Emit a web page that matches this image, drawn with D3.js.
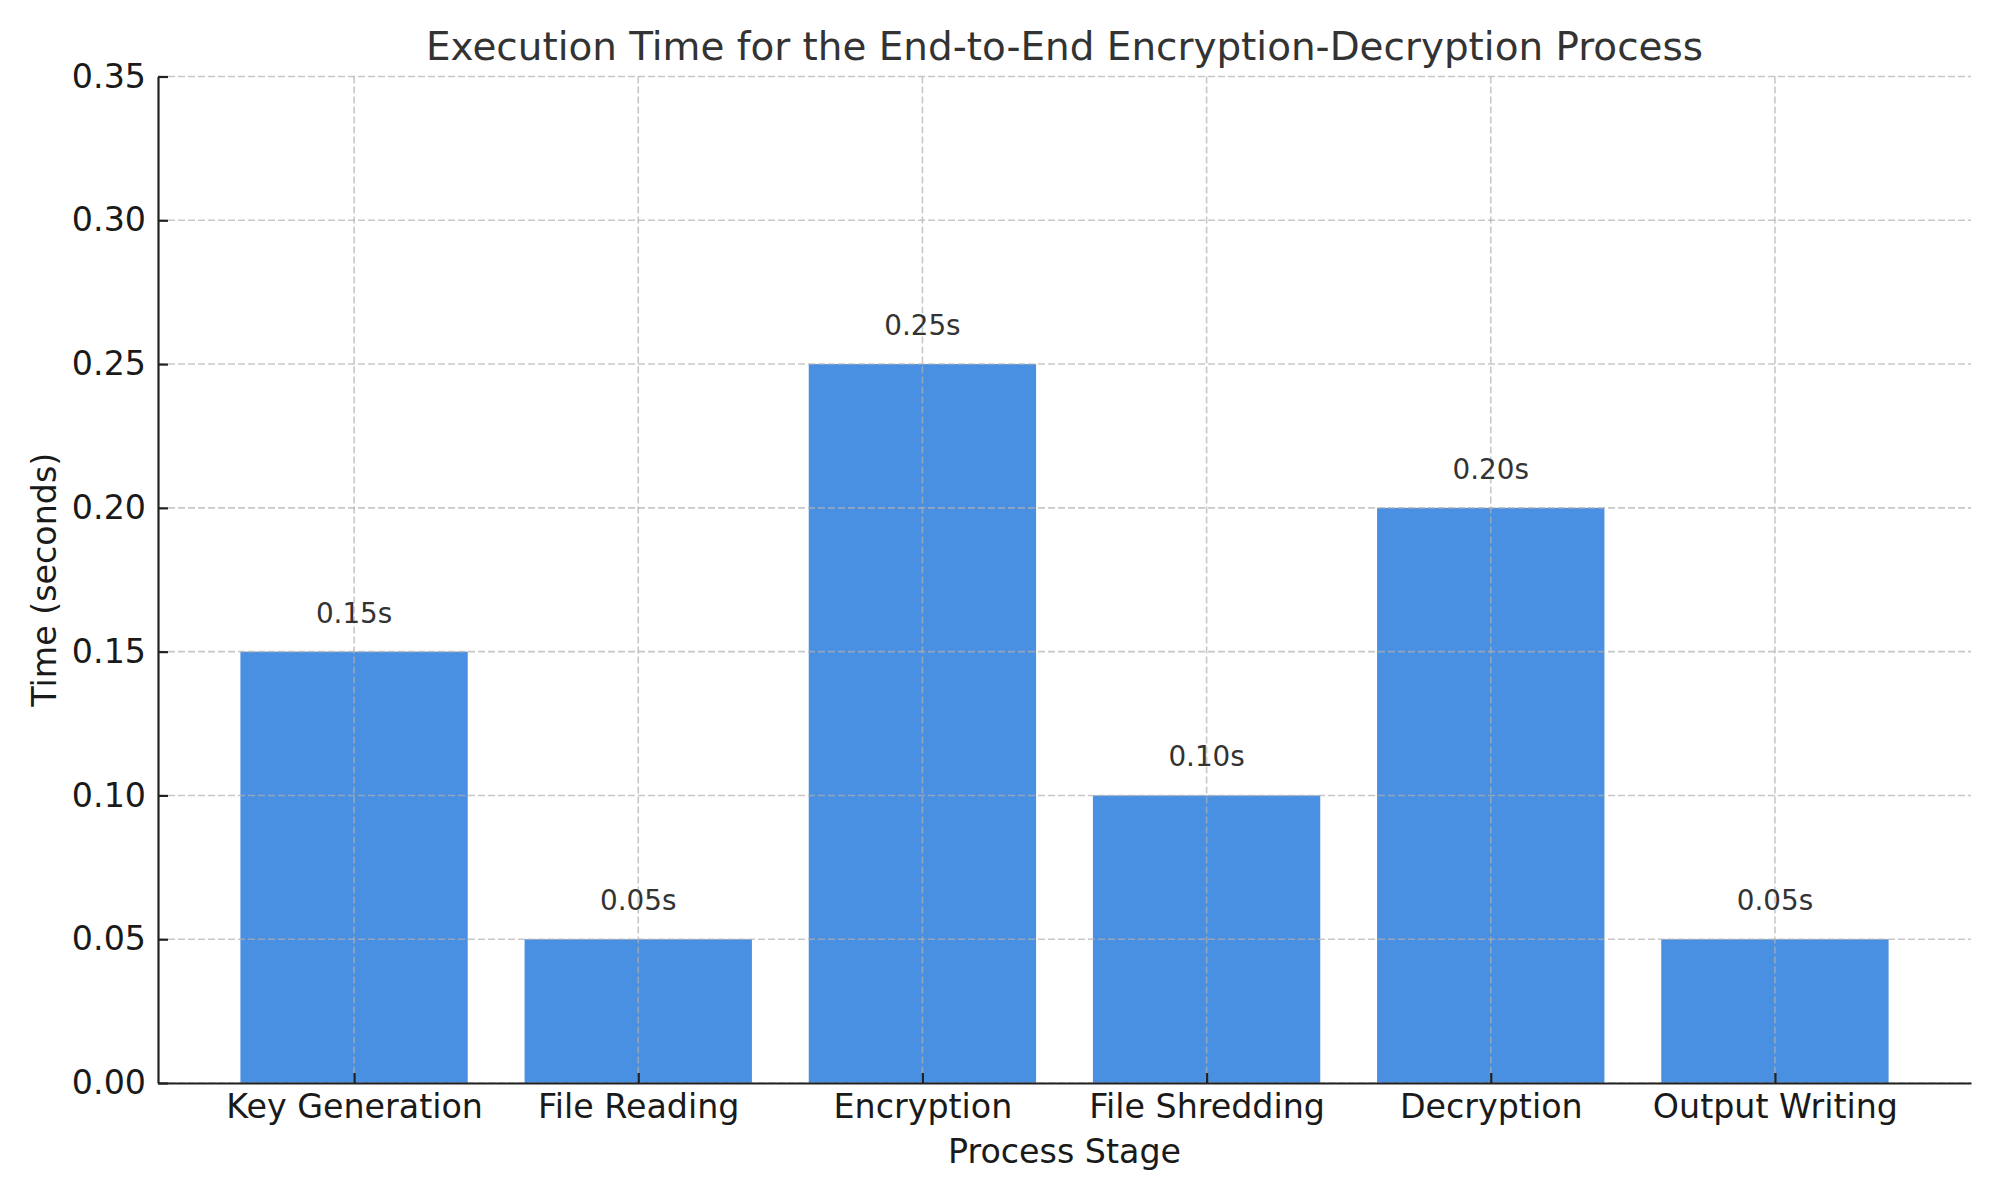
<!DOCTYPE html>
<html>
<head>
<meta charset="utf-8">
<script src="https://cdn.jsdelivr.net/npm/d3@7"></script>
<style>
  body { margin: 0; background: #fff; }
  text { font-family: "DejaVu Sans", sans-serif; }
</style>
</head>
<body>
<div id="chart"></div>
<script>
// Data
const stages = ['Key Generation', 'File Reading', 'Encryption', 'File Shredding', 'Decryption', 'Output Writing'];
const times = [0.15, 0.05, 0.25, 0.10, 0.20, 0.05];
const yTicks = [0, 0.05, 0.10, 0.15, 0.20, 0.25, 0.30, 0.35];

const width = 2000;
const height = 1200;
const margin = {top: 76.5, right: 29, bottom: 117, left: 158};
const plotW = width - margin.left - margin.right;
const plotH = height - margin.top - margin.bottom;

const svg = d3.select('#chart').append('svg')
  .attr('width', width)
  .attr('height', height);

// matplotlib-like x: bars of width 0.8, 5% margins
const x = d3.scaleLinear()
  .domain([-0.69, stages.length - 1 + 0.69])
  .range([margin.left, margin.left + plotW]);
const y = d3.scaleLinear()
  .domain([0, 0.35])
  .range([margin.top + plotH, margin.top]);

const barW = 0.8;
const data = stages.map((s, i) => ({stage: s, i: i, value: times[i]}));

// bars
svg.append('g').selectAll('rect')
  .data(data)
  .enter().append('rect')
  .attr('x', d => x(d.i - barW / 2))
  .attr('y', d => y(d.value))
  .attr('width', d => x(d.i + barW / 2) - x(d.i - barW / 2))
  .attr('height', d => y(0) - y(d.value))
  .attr('fill', '#4a90e2');

// grid on top of bars
const grid = svg.append('g')
  .attr('stroke', '#b0b0b0')
  .attr('stroke-opacity', 0.7)
  .attr('stroke-width', 1.6)
  .attr('stroke-dasharray', '7,3');
grid.selectAll('.hgrid')
  .data(yTicks)
  .enter().append('line')
  .attr('x1', margin.left)
  .attr('x2', margin.left + plotW)
  .attr('y1', d => y(d))
  .attr('y2', d => y(d));
grid.selectAll('.vgrid')
  .data(data)
  .enter().append('line')
  .attr('x1', d => x(d.i))
  .attr('x2', d => x(d.i))
  .attr('y1', margin.top)
  .attr('y2', margin.top + plotH);

// value labels
svg.append('g').selectAll('text')
  .data(data)
  .enter().append('text')
  .attr('x', d => x(d.i))
  .attr('y', d => y(d.value) - 29)
  .attr('text-anchor', 'middle')
  .attr('font-size', '27.8px')
  .attr('fill', '#333')
  .text(d => d.value.toFixed(2) + 's');

// axes
const xAxis = d3.axisBottom(x)
  .tickValues(data.map(d => d.i))
  .tickFormat(i => stages[i])
  .tickSizeInner(-10)
  .tickSizeOuter(0)
  .tickPadding(12);
const gx = svg.append('g')
  .attr('transform', `translate(0,${margin.top + plotH})`)
  .call(xAxis);
gx.select('.domain').attr('stroke', '#222').attr('stroke-width', 2.2);
gx.selectAll('.tick line').attr('stroke', '#222').attr('stroke-width', 2.2);
gx.selectAll('.tick text')
  .attr('font-size', '33.3px')
  .attr('font-family', '"DejaVu Sans", sans-serif')
  .attr('fill', '#1a1a1a')
  .attr('dy', null)
  .attr('y', 35);

const yAxis = d3.axisLeft(y)
  .tickValues(yTicks)
  .tickFormat(d3.format('.2f'))
  .tickSizeInner(-10)
  .tickSizeOuter(0)
  .tickPadding(12);
const gy = svg.append('g')
  .attr('transform', `translate(${margin.left},0)`)
  .call(yAxis);
gy.select('.domain').attr('stroke', '#222').attr('stroke-width', 2.2);
gy.selectAll('.tick line').attr('stroke', '#222').attr('stroke-width', 2.2);
gy.selectAll('.tick text')
  .attr('font-size', '33.3px')
  .attr('font-family', '"DejaVu Sans", sans-serif')
  .attr('fill', '#1a1a1a');

// title and axis labels
svg.append('text')
  .attr('x', margin.left + plotW / 2)
  .attr('y', 60)
  .attr('text-anchor', 'middle')
  .attr('font-size', '38.9px')
  .attr('fill', '#333')
  .text('Execution Time for the End-to-End Encryption-Decryption Process');

svg.append('text')
  .attr('x', margin.left + plotW / 2)
  .attr('y', 1163)
  .attr('text-anchor', 'middle')
  .attr('font-size', '33.3px')
  .attr('fill', '#1a1a1a')
  .text('Process Stage');

svg.append('text')
  .attr('transform', `translate(56,${margin.top + plotH / 2}) rotate(-90)`)
  .attr('text-anchor', 'middle')
  .attr('font-size', '33.3px')
  .attr('fill', '#1a1a1a')
  .text('Time (seconds)');
</script>
</body>
</html>
